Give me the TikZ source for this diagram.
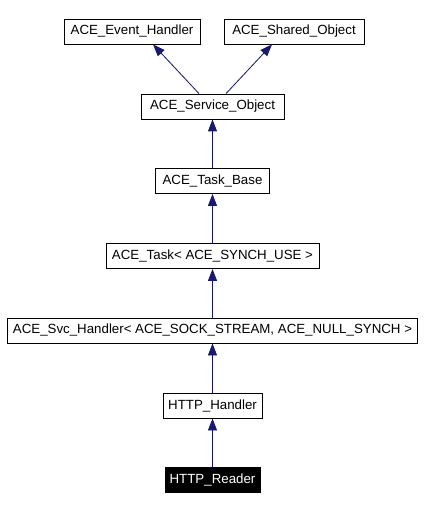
\documentclass[tikz,border=0pt]{standalone}
\usepackage{fontspec}
\setmainfont{Liberation Sans}
\usetikzlibrary{arrows.meta}
\definecolor{edgeblue}{HTML}{191970}
\tikzset{>={Triangle[length=12pt,width=9pt]}}
\tikzset{
  cls/.style={draw=black, fill=white, line width=0.8pt, minimum height=25pt, inner sep=0pt, font=\fontsize{13.3}{15}\selectfont},
  curcls/.style={cls, fill=black, text=white},
  inherit/.style={<-, draw=edgeblue, fill=edgeblue, line width=0.8pt},
}

\begin{document}
\begin{tikzpicture}[x=1pt,y=-1pt]
    \useasboundingbox (0,0) rectangle (424,510);
    \node[cls, minimum width=136pt] (evh) at (132,31.5) {ACE\_Event\_Handler};
    \node[cls, minimum width=140pt] (shr) at (294,31.5) {ACE\_Shared\_Object};
    \node[cls, minimum width=143pt] (svo) at (212.5,106.5) {ACE\_Service\_Object};
    \node[cls, minimum width=114pt] (tsb) at (212.5,181) {ACE\_Task\_Base};
    \node[cls, minimum width=213pt] (tsk) at (212.5,256) {ACE\_Task< ACE\_SYNCH\_USE >};
    \node[cls, minimum width=410pt] (svc) at (212.5,330.5) {ACE\_Svc\_Handler< ACE\_SOCK\_STREAM, ACE\_NULL\_SYNCH >};
    \node[cls, minimum width=99pt] (hth) at (212.5,405.5) {HTTP\_Handler};
    \node[curcls, minimum width=95pt] (htr) at (212.5,480) {HTTP\_Reader};

    \draw[inherit] ([xshift=21pt]evh.south) -- ([xshift=-13.5pt]svo.north);
    \draw[inherit] ([xshift=-22pt]shr.south) -- ([xshift=13.5pt]svo.north);
    \draw[inherit] (svo) -- (tsb);
    \draw[inherit] (tsb) -- (tsk);
    \draw[inherit] (tsk) -- (svc);
    \draw[inherit] (svc) -- (hth);
    \draw[inherit] (hth) -- (htr);
\end{tikzpicture}
\end{document}
